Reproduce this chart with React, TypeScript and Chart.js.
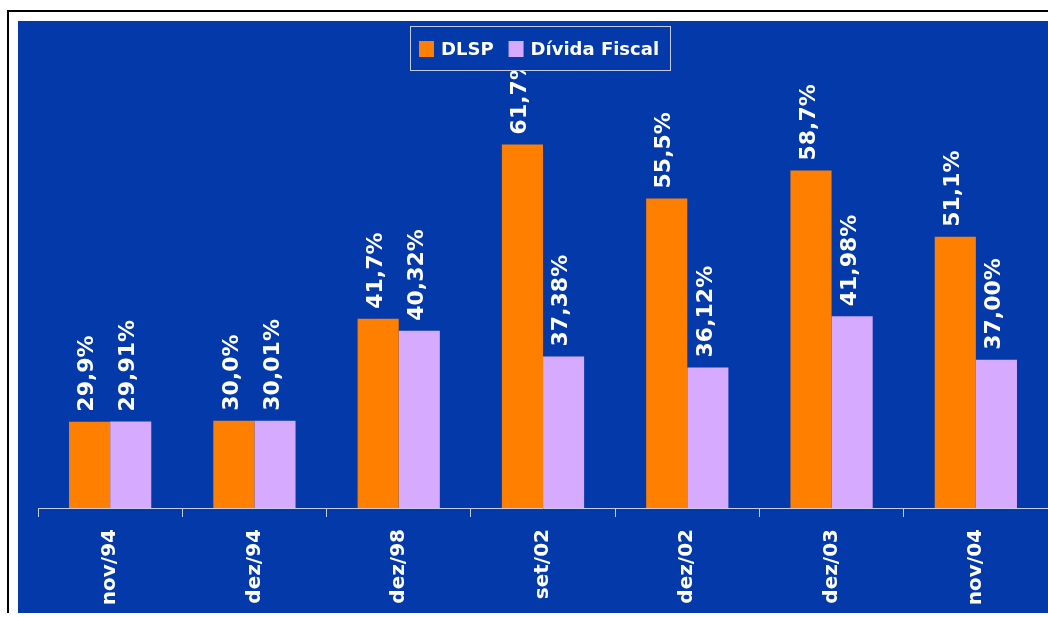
import React, { useEffect, useRef } from "react";
import { Chart, registerables } from "chart.js";

Chart.register(...registerables);

const categories = ["nov/94", "dez/94", "dez/98", "set/02", "dez/02", "dez/03", "nov/04"];
const dlspValues = [29.9, 30.0, 41.7, 61.7, 55.5, 58.7, 51.1];
const fiscalValues = [29.91, 30.01, 40.32, 37.38, 36.12, 41.98, 37.0];
const dlspLabels = ["29,9%", "30,0%", "41,7%", "61,7%", "55,5%", "58,7%", "51,1%"];
const fiscalLabels = ["29,91%", "30,01%", "40,32%", "37,38%", "36,12%", "41,98%", "37,00%"];
const seriesNames = ["DLSP", "Dívida Fiscal"];

const BLUE = "#0339A9";
const ORANGE = "#FF7F00";
const LILAC = "#D6AAFF";
const AXIS = "#C4CCE6";
const FONT = "'DejaVu Sans', sans-serif";

const bgPlugin = {
  id: "bg",
  beforeDraw(chart: any) {
    const ctx = chart.ctx;
    ctx.save();
    ctx.fillStyle = BLUE;
    ctx.fillRect(0, 0, chart.width, chart.height);
    ctx.restore();
  },
};

const labelPlugin = {
  id: "vlabels",
  afterDatasetsDraw(chart: any) {
    const ctx = chart.ctx;
    const all = [dlspLabels, fiscalLabels];
    ctx.save();
    ctx.fillStyle = "#FFFFFF";
    ctx.font = `bold 22px ${FONT}`;
    ctx.textAlign = "left";
    ctx.textBaseline = "middle";
    chart.data.datasets.forEach((_: any, di: number) => {
      const meta = chart.getDatasetMeta(di);
      meta.data.forEach((bar: any, i: number) => {
        ctx.save();
        ctx.translate(bar.x - 2, bar.y - 10);
        ctx.rotate(-Math.PI / 2);
        ctx.fillText(all[di][i], 0, 0);
        ctx.restore();
      });
    });
    ctx.restore();
  },
};

const legendPlugin = {
  id: "boxlegend",
  afterDraw(chart: any) {
    const ctx = chart.ctx;
    ctx.save();
    const bx = 392, by = 5, bw = 261, bh = 45;
    ctx.fillStyle = BLUE;
    ctx.fillRect(bx, by, bw, bh);
    ctx.strokeStyle = AXIS;
    ctx.lineWidth = 1;
    ctx.strokeRect(bx + 0.5, by + 0.5, bw - 1, bh - 1);
    ctx.font = `bold 18px ${FONT}`;
    ctx.textBaseline = "middle";
    ctx.textAlign = "left";
    const colors = [ORANGE, LILAC];
    const ty = 28;
    let x = bx + 9;
    seriesNames.forEach((name, i) => {
      ctx.fillStyle = colors[i];
      ctx.fillRect(x, ty - 8, 15, 16);
      x += 22;
      ctx.fillStyle = "#FFFFFF";
      ctx.fillText(name, x, ty + 1);
      x += ctx.measureText(name).width + 15;
    });
    ctx.restore();
  },
};

export default function App() {
  const ref = useRef<HTMLCanvasElement | null>(null);

  useEffect(() => {
    if (!ref.current) return;
    const chart = new Chart(ref.current, {
      type: "bar",
      data: {
        labels: categories,
        datasets: [
          {
            label: seriesNames[0],
            data: dlspValues,
            backgroundColor: ORANGE,
            borderWidth: 0,
            inflateAmount: 0,
            categoryPercentage: 0.57,
            barPercentage: 1,
          },
          {
            label: seriesNames[1],
            data: fiscalValues,
            backgroundColor: LILAC,
            borderWidth: 0,
            inflateAmount: 0,
            categoryPercentage: 0.57,
            barPercentage: 1,
          },
        ],
      },
      options: {
        animation: false,
        responsive: false,
        devicePixelRatio: 1,
        layout: { padding: { left: 20, right: 0, top: 51, bottom: 0 } },
        plugins: {
          legend: { display: false },
          tooltip: { enabled: false },
          title: { display: false },
        },
        scales: {
          x: {
            offset: true,
            grid: {
              display: true,
              offset: true,
              drawOnChartArea: false,
              drawTicks: true,
              tickLength: 9,
              color: AXIS,
              lineWidth: 1,
            },
            border: { display: true, color: AXIS, width: 1 },
            ticks: {
              color: "#FFFFFF",
              font: { family: FONT, size: 20, weight: "bold" },
              minRotation: 90,
              maxRotation: 90,
              padding: 12,
              autoSkip: false,
            },
            afterFit(scale: any) {
              scale.height = 105;
            },
          },
          y: {
            display: false,
            min: 20,
            max: 70,
          },
        },
      },
      plugins: [bgPlugin, labelPlugin, legendPlugin],
    });
    return () => chart.destroy();
  }, []);

  return (
    <div
      style={{
        position: "absolute",
        left: 0,
        top: 0,
        width: 1048,
        height: 617,
        background: "#FFFFFF",
        overflow: "hidden",
      }}
    >
      <div
        style={{
          position: "absolute",
          left: 7,
          top: 10,
          width: 1100,
          height: 603,
          borderLeft: "2px solid #000",
          borderTop: "2px solid #000",
          boxSizing: "border-box",
        }}
      />
      <canvas
        ref={ref}
        width={1030}
        height={592}
        style={{ position: "absolute", left: 18, top: 21, width: 1030, height: 592 }}
      />
    </div>
  );
}
